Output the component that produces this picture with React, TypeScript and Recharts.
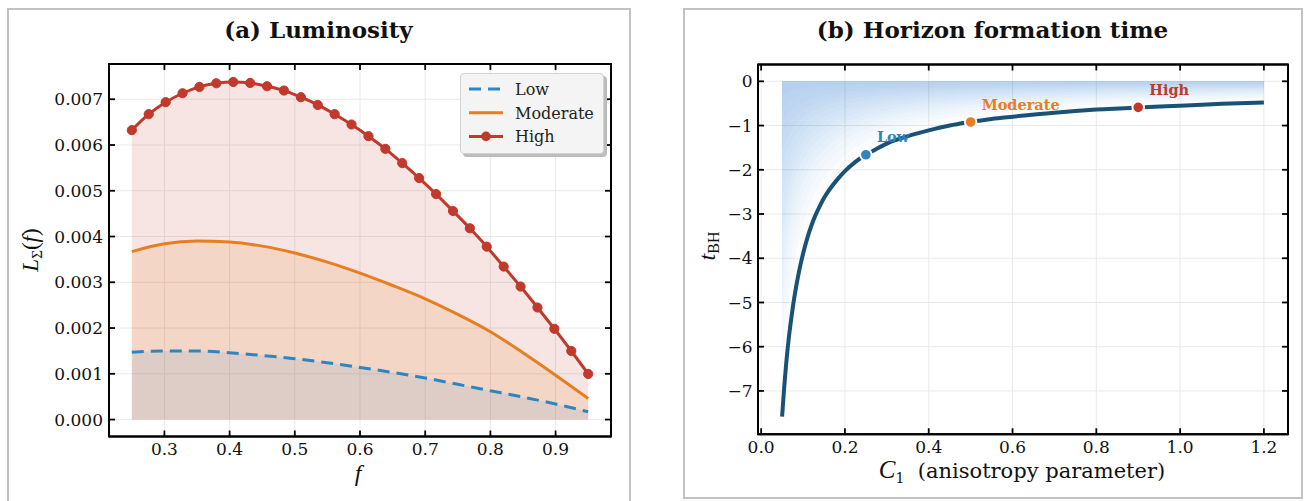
import React from 'react';
import { ComposedChart, Line, Area, Scatter, XAxis, YAxis, CartesianGrid, Legend, ReferenceArea } from 'recharts';

// ---------- Panel (a): Luminosity ----------
const fHigh = [0.25, 0.2759, 0.3019, 0.3278, 0.3537, 0.3796, 0.4056, 0.4315, 0.4574, 0.4833, 0.5093, 0.5352, 0.5611, 0.587, 0.613, 0.6389, 0.6648, 0.6907, 0.7167, 0.7426, 0.7685, 0.7944, 0.8204, 0.8463, 0.8722, 0.8981, 0.9241, 0.95];
const lumHigh = [0.006324, 0.006673, 0.006935, 0.007131, 0.007269, 0.007349, 0.007377, 0.007356, 0.007284, 0.00719, 0.007044, 0.006876, 0.006673, 0.006448, 0.006193, 0.005916, 0.005604, 0.005277, 0.004928, 0.004558, 0.00418, 0.003779, 0.003343, 0.002907, 0.002449, 0.001984, 0.001498, 0.000997];
const fSmooth = [0.25, 0.3, 0.35, 0.4, 0.45, 0.5, 0.55, 0.6, 0.65, 0.7, 0.75, 0.8, 0.85, 0.9, 0.95];
const lumModerate = [0.00367, 0.00384, 0.0039, 0.00388, 0.00379, 0.00364, 0.00344, 0.0032, 0.00293, 0.00264, 0.0023, 0.00192, 0.00146, 0.00097, 0.00046];
const lumLow = [0.00147, 0.0015, 0.0015, 0.00146, 0.0014, 0.00133, 0.00124, 0.00114, 0.00103, 0.00091, 0.00077, 0.00063, 0.00049, 0.00034, 0.00017];
const fTicks = [0.3, 0.4, 0.5, 0.6, 0.7, 0.8, 0.9];
const lumTicks = [0, 0.001, 0.002, 0.003, 0.004, 0.005, 0.006, 0.007];
const fDomain = [0.215, 0.985];
const lumDomain = [-0.00037, 0.00777];
const seriesNames = ['Low', 'Moderate', 'High'];

// ---------- Panel (b): Horizon formation time ----------
const c1Values = [0.05, 0.055, 0.06, 0.065, 0.07, 0.075, 0.08, 0.09, 0.1, 0.11, 0.12, 0.13, 0.14, 0.15, 0.16, 0.18, 0.2, 0.225, 0.25, 0.275, 0.3, 0.35, 0.4, 0.45, 0.5, 0.55, 0.6, 0.7, 0.8, 0.9, 1.0, 1.1, 1.2];
const tBH = [-7.58, -6.92, -6.36, -5.89, -5.5, -5.15, -4.84, -4.32, -3.9, -3.55, -3.26, -3.02, -2.82, -2.64, -2.49, -2.24, -2.03, -1.82, -1.66, -1.53, -1.41, -1.24, -1.11, -1.0, -0.92, -0.85, -0.8, -0.71, -0.64, -0.59, -0.55, -0.51, -0.48];
const markerC1 = [0.25, 0.5, 0.9];
const markerT = [-1.66, -0.92, -0.59];
const c1Ticks = [0, 0.2, 0.4, 0.6, 0.8, 1.0, 1.2];
const tTicks = [0, -1, -2, -3, -4, -5, -6, -7];
const c1Domain = [-0.0075, 1.2575];
const tDomain = [-7.98, 0.38];

// ---------- styles ----------
const BLUE = '#2e86c1';
const FADE_BLUE = '#3a8fd0';
const ORANGE = '#e67e22';
const RED = '#c0392b';
const NAVY = '#1a5276';
const seriesColors: Record<string, string> = { Low: BLUE, Moderate: ORANGE, High: RED };
const TICK_FONT = { fontFamily: 'DejaVu Serif', fontSize: 17, fill: '#111' };
const AXIS_LINE = { stroke: '#000', strokeWidth: 2 };
const TICK_LINE = { stroke: '#000', strokeWidth: 1.8 };
const GRID = '#e9e9e9';
const noTickLabel = () => <g />;

const highData = fHigh.map((f, i) => ({ f, L: lumHigh[i] }));
const moderateData = fSmooth.map((f, i) => ({ f, L: lumModerate[i] }));
const lowData = fSmooth.map((f, i) => ({ f, L: lumLow[i] }));

const curveData = c1Values.map((c1, i) => ({ c1, t: tBH[i] }));
const markerData = markerC1.map((c1, i) => ({ c1, t: markerT[i], name: seriesNames[i] }));

// fade layers between t=0 and the curve: layer k spans 0 .. s_k * t
const N_LAYERS = 16;
const FADE_POWER = 1.6;
const layerKeys = Array.from({ length: N_LAYERS }, (_, i) => {
  const s = 1 - Math.pow(i / N_LAYERS, 1 / FADE_POWER);
  return (d: any) => d.t * s;
});

const LegendBox = () => (
  <div
    style={{
      width: 144,
      height: 81,
      background: '#f4f4f4',
      border: '1px solid #d2d2d2',
      borderRadius: 4,
      boxShadow: '3px 3px 0 #bcbcbc',
      boxSizing: 'border-box',
    }}
  >
    <svg width={142} height={79} style={{ display: 'block' }}>
      {seriesNames.map((name, i) => {
        const y = 15 + i * 23.7;
        return (
          <g key={name}>
            <line
              x1={8}
              x2={42}
              y1={y}
              y2={y}
              stroke={seriesColors[name]}
              strokeWidth={3}
              strokeDasharray={name === 'Low' ? '12 7' : undefined}
            />
            {name === 'High' && <circle cx={25} cy={y} r={4.8} fill={RED} />}
            <text x={54} y={y + 5.8} fontFamily="DejaVu Serif" fontSize={16} fill="#222">
              {name}
            </text>
          </g>
        );
      })}
    </svg>
  </div>
);

const renderMarker = (props: any) => {
  const { cx, cy, payload } = props;
  const color = seriesColors[payload.name];
  return (
    <g>
      <circle cx={cx} cy={cy} r={5.8} fill={color} stroke="#fff" strokeWidth={2} />
      <text x={cx + 11} y={cy - 12.5} fontFamily="DejaVu Serif" fontWeight="bold" fontSize={14.5} fill={color}>
        {payload.name}
      </text>
    </g>
  );
};

const card = (left: number, width: number, height: number): React.CSSProperties => ({
  position: 'absolute',
  left,
  top: 8,
  width,
  height,
  border: '2px solid #c2c2c2',
  boxSizing: 'border-box',
  background: '#fff',
});

export default function App() {
  return (
    <div style={{ position: 'absolute', left: 0, top: 0, width: 1306, height: 501 }}>
      <div style={card(7, 624, 498)} />
      <div style={card(683, 620, 491)} />

      {/* Panel (a) */}
      <div style={{ position: 'absolute', left: 0, top: 0 }}>
        <ComposedChart width={660} height={501} margin={{ top: 63, right: 48, bottom: 34.5, left: 49 }}>
          <CartesianGrid stroke={GRID} strokeWidth={1} />
          <XAxis
            type="number"
            dataKey="f"
            domain={fDomain}
            allowDataOverflow
            ticks={fTicks}
            interval={0}
            tickFormatter={(v: number) => v.toFixed(1)}
            tickSize={-6}
            tickMargin={12}
            tick={TICK_FONT}
            tickLine={TICK_LINE}
            axisLine={AXIS_LINE}
            height={30}
          />
          <XAxis
            xAxisId="top"
            orientation="top"
            type="number"
            dataKey="f"
            domain={fDomain}
            allowDataOverflow
            ticks={fTicks}
            interval={0}
            tick={noTickLabel}
            tickSize={-6}
            tickLine={TICK_LINE}
            axisLine={AXIS_LINE}
            height={1}
          />
          <YAxis
            type="number"
            domain={lumDomain}
            allowDataOverflow
            ticks={lumTicks}
            interval={0}
            tickFormatter={(v: number) => v.toFixed(3)}
            tickSize={-6}
            tickMargin={12}
            tick={TICK_FONT}
            tickLine={TICK_LINE}
            axisLine={AXIS_LINE}
            width={60}
          />
          <YAxis
            yAxisId="right"
            orientation="right"
            type="number"
            domain={lumDomain}
            allowDataOverflow
            ticks={lumTicks}
            interval={0}
            tick={noTickLabel}
            tickSize={-6}
            tickLine={TICK_LINE}
            axisLine={AXIS_LINE}
            width={1}
          />
          <Area data={highData} dataKey="L" type="monotone" baseValue={0} fill={RED} fillOpacity={0.13} stroke="none" isAnimationActive={false} />
          <Area data={moderateData} dataKey="L" type="monotone" baseValue={0} fill={ORANGE} fillOpacity={0.15} stroke="none" isAnimationActive={false} />
          <Area data={lowData} dataKey="L" type="monotone" baseValue={0} fill={BLUE} fillOpacity={0.11} stroke="none" isAnimationActive={false} />
          <Line data={lowData} dataKey="L" name="Low" type="monotone" stroke={BLUE} strokeWidth={3} strokeDasharray="12 7" dot={false} isAnimationActive={false} />
          <Line data={moderateData} dataKey="L" name="Moderate" type="monotone" stroke={ORANGE} strokeWidth={3} dot={false} isAnimationActive={false} />
          <Line
            data={highData}
            dataKey="L"
            name="High"
            type="monotone"
            stroke={RED}
            strokeWidth={3}
            dot={{ r: 4.6, fill: RED, stroke: RED, strokeWidth: 1 }}
            isAnimationActive={false}
          />
          {/* invisible series that binds the mirrored top/right axes */}
          <Line data={highData} dataKey="L" xAxisId="top" yAxisId="right" stroke="none" strokeWidth={0} dot={false} legendType="none" isAnimationActive={false} />
          <ReferenceArea x1={fDomain[0]} x2={fDomain[1]} y1={lumDomain[0]} y2={lumDomain[1]} fill="none" stroke="#000" strokeWidth={2} ifOverflow="visible" />
          <Legend
            layout="vertical"
            align="center"
            verticalAlign="middle"
            wrapperStyle={{ left: 460, top: 73, width: 147, height: 84 }}
            content={() => <LegendBox />}
          />
        </ComposedChart>
      </div>

      {/* Panel (b) */}
      <div style={{ position: 'absolute', left: 660, top: 0 }}>
        <ComposedChart width={646} height={501} data={curveData} margin={{ top: 63.5, right: 17, bottom: 36.7, left: 38 }}>
          <CartesianGrid stroke={GRID} strokeWidth={1} />
          <XAxis
            type="number"
            dataKey="c1"
            domain={c1Domain}
            allowDataOverflow
            ticks={c1Ticks}
            interval={0}
            tickFormatter={(v: number) => v.toFixed(1)}
            tickSize={-6}
            tickMargin={12.5}
            tick={TICK_FONT}
            tickLine={TICK_LINE}
            axisLine={AXIS_LINE}
            height={30}
          />
          <XAxis
            xAxisId="top"
            orientation="top"
            type="number"
            dataKey="c1"
            domain={c1Domain}
            allowDataOverflow
            ticks={c1Ticks}
            interval={0}
            tick={noTickLabel}
            tickSize={-6}
            tickLine={TICK_LINE}
            axisLine={AXIS_LINE}
            height={1}
          />
          <YAxis
            type="number"
            dataKey="t"
            domain={tDomain}
            allowDataOverflow
            ticks={tTicks}
            interval={0}
            tickFormatter={(v: number) => (v === 0 ? '0' : '\u2212' + Math.abs(v))}
            tickSize={-6}
            tickMargin={11.5}
            tick={TICK_FONT}
            tickLine={TICK_LINE}
            axisLine={AXIS_LINE}
            width={60}
          />
          <YAxis
            yAxisId="right"
            orientation="right"
            type="number"
            dataKey="t"
            domain={tDomain}
            allowDataOverflow
            ticks={tTicks}
            interval={0}
            tick={noTickLabel}
            tickSize={-6}
            tickLine={TICK_LINE}
            axisLine={AXIS_LINE}
            width={1}
          />
          {layerKeys.map((key, i) => (
            <Area
              key={'layer' + i}
              dataKey={key}
              type="monotone"
              baseValue={0}
              fill={FADE_BLUE}
              fillOpacity={0.024}
              stroke="none"
              isAnimationActive={false}
              legendType="none"
            />
          ))}
          <Line dataKey="t" type="monotone" stroke={NAVY} strokeWidth={4} dot={false} isAnimationActive={false} />
          <Scatter data={markerData} dataKey="t" shape={renderMarker} isAnimationActive={false} />
          {/* invisible series that binds the mirrored top/right axes */}
          <Line dataKey="t" xAxisId="top" yAxisId="right" stroke="none" strokeWidth={0} dot={false} legendType="none" isAnimationActive={false} />
          <ReferenceArea x1={c1Domain[0]} x2={c1Domain[1]} y1={tDomain[0]} y2={tDomain[1]} fill="none" stroke="#000" strokeWidth={2} ifOverflow="visible" />
        </ComposedChart>
      </div>

      {/* titles and axis labels */}
      <svg width={1306} height={501} style={{ position: 'absolute', left: 0, top: 0, pointerEvents: 'none' }}>
        <text x={318.5} y={38} textAnchor="middle" fontFamily="DejaVu Serif" fontWeight="bold" fontSize={23} fill="#111">
          (a) Luminosity
        </text>
        <text x={992.5} y={38} textAnchor="middle" fontFamily="DejaVu Serif" fontWeight="bold" fontSize={23} fill="#111">
          (b) Horizon formation time
        </text>
        <text x={358} y={481} textAnchor="middle" fontFamily="Liberation Serif" fontStyle="italic" fontSize={24} fill="#111">
          f
        </text>
        <text transform="translate(38,250) rotate(-90)" textAnchor="middle" fontFamily="Liberation Serif" fontSize={23} fill="#111">
          <tspan fontStyle="italic">L</tspan>
          <tspan fontSize={15} dy={4}>Σ</tspan>
          <tspan dy={-4}>(</tspan>
          <tspan fontStyle="italic">f</tspan>
          <tspan>)</tspan>
        </text>
        <text transform="translate(715,246) rotate(-90)" textAnchor="middle" fontFamily="Liberation Serif" fontSize={24} fill="#111">
          <tspan fontStyle="italic">t</tspan>
          <tspan fontSize={16} dy={4}>BH</tspan>
        </text>
        <text x={1022} y={478} textAnchor="middle" fontFamily="DejaVu Serif" fontSize={21} fill="#111">
          <tspan fontFamily="Liberation Serif" fontStyle="italic" fontSize={25}>C</tspan>
          <tspan fontSize={14} dy={5}>1</tspan>
          <tspan dy={-5}>{'\u00a0\u00a0(anisotropy parameter)'}</tspan>
        </text>
      </svg>
    </div>
  );
}
